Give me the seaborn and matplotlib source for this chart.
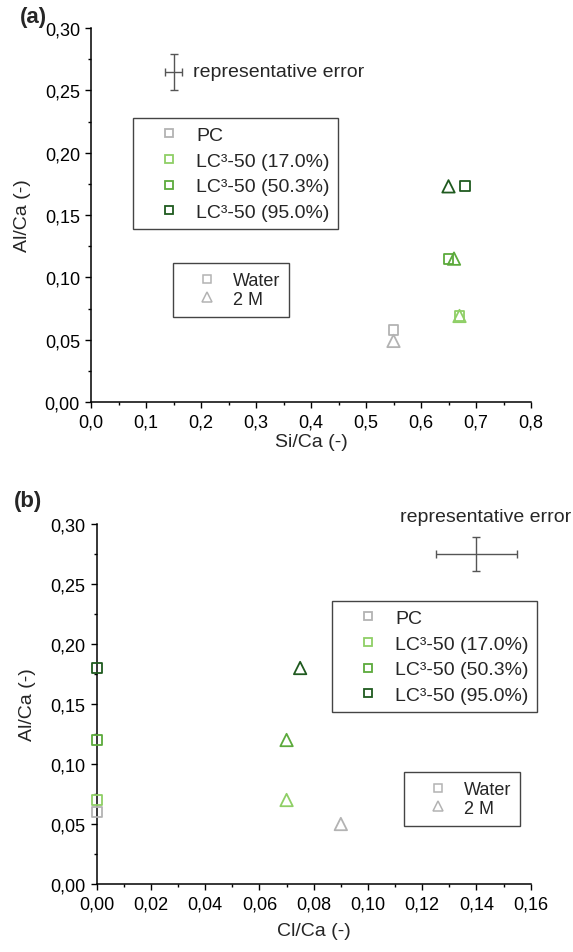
import numpy as np
import pandas as pd
import matplotlib
matplotlib.use("Agg")
import matplotlib.pyplot as plt
from matplotlib.lines import Line2D
from matplotlib.ticker import FuncFormatter, MultipleLocator, AutoMinorLocator
import seaborn as sns

# ---------------- data ----------------
samples = ["PC", "LC³-50 (17.0%)", "LC³-50 (50.3%)", "LC³-50 (95.0%)"]
media = ["Water", "2 M"]

# panel (a): Si/Ca vs Al/Ca
a_si_water = [0.55, 0.67, 0.65, 0.68]
a_si_2m = [0.55, 0.67, 0.66, 0.65]
a_al_water = [0.058, 0.069, 0.115, 0.173]
a_al_2m = [0.049, 0.069, 0.115, 0.173]

# panel (b): Cl/Ca vs Al/Ca
b_cl_water = [0.0, 0.0, 0.0, 0.0]
b_cl_2m = [0.09, 0.07, 0.07, 0.075]
b_al_water = [0.06, 0.07, 0.12, 0.18]
b_al_2m = [0.05, 0.07, 0.12, 0.18]

# representative errors (x, y, xerr, yerr)
err_a = [0.15, 0.265, 0.016, 0.0145]
err_b = [0.14, 0.275, 0.015, 0.0145]

colors = ["#b3b3b3", "#8fcf66", "#5caa3c", "#1f5a1f"]

df_a = pd.DataFrame({
    "sample": samples * 2,
    "medium": ["Water"] * 4 + ["2 M"] * 4,
    "x": a_si_water + a_si_2m,
    "y": a_al_water + a_al_2m,
})
df_b = pd.DataFrame({
    "sample": samples * 2,
    "medium": ["Water"] * 4 + ["2 M"] * 4,
    "x": b_cl_water + b_cl_2m,
    "y": b_al_water + b_al_2m,
})

# ---------------- style ----------------
sns.set_theme(style="ticks")
plt.rcParams["font.family"] = ["Liberation Sans", "DejaVu Sans"]
plt.rcParams["axes.linewidth"] = 1.1
for k in ["xtick.major.width", "ytick.major.width", "xtick.minor.width", "ytick.minor.width"]:
    plt.rcParams[k] = 1.0
plt.rcParams["xtick.major.size"] = 4.5
plt.rcParams["ytick.major.size"] = 4.5
plt.rcParams["xtick.minor.size"] = 2.5
plt.rcParams["ytick.minor.size"] = 2.5
plt.rcParams["xtick.color"] = "black"
plt.rcParams["ytick.color"] = "black"
plt.rcParams["axes.edgecolor"] = "black"

TICK_FS = 13
LAB_FS = 14
LEG_FS = 14

fig = plt.figure(figsize=(5.73, 9.53), dpi=100)
W, H = 573.0, 953.0
ax_a = fig.add_axes([91 / W, 1 - 403 / H, 440 / W, 374 / H])
ax_b = fig.add_axes([96.7 / W, 1 - 885 / H, 434 / W, 360 / H])

pal = dict(zip(samples, colors))
marks = {"Water": "s", "2 M": "^"}
sizes = {"Water": 50, "2 M": 80}


def comma_fmt(dec):
    return FuncFormatter(lambda v, p: f"{v:.{dec}f}".replace(".", ","))


def draw(ax, df, xlim, xmaj, xdec, xlabel, xlabelpad):
    sns.scatterplot(data=df, x="x", y="y", hue="sample", style="medium",
                    size="medium", palette=pal, markers=marks, sizes=sizes,
                    hue_order=samples, style_order=media, size_order=media,
                    legend=False, ax=ax, zorder=3)
    coll = ax.collections[-1]
    fc = coll.get_facecolors()
    coll.set_edgecolors(fc)
    coll.set_facecolors("none")
    coll.set_linewidths(1.3)
    coll.set_clip_on(False)

    ax.set_xlim(*xlim)
    ax.set_ylim(0, 0.30)
    ax.xaxis.set_major_locator(MultipleLocator(xmaj))
    ax.xaxis.set_minor_locator(AutoMinorLocator(2))
    ax.yaxis.set_major_locator(MultipleLocator(0.05))
    ax.yaxis.set_minor_locator(AutoMinorLocator(2))
    ax.xaxis.set_major_formatter(comma_fmt(xdec))
    ax.yaxis.set_major_formatter(comma_fmt(2))
    ax.tick_params(axis="both", which="both", direction="out", labelsize=TICK_FS)
    sns.despine(ax=ax)
    ax.set_xlabel(xlabel, fontsize=LAB_FS, labelpad=xlabelpad)
    ax.set_ylabel("Al/Ca (-)", fontsize=LAB_FS, labelpad=10)

    h1 = [Line2D([], [], ls="none", marker="s", ms=5.5, mfc="none", mec=c, mew=1.3)
          for c in colors]
    leg1 = ax.legend(h1, samples, fontsize=LEG_FS, frameon=True, fancybox=False,
                     edgecolor="#444444", framealpha=1, loc="upper left",
                     borderaxespad=0, handlelength=2.85, handletextpad=-0.03,
                     borderpad=0.44, labelspacing=0.41)
    leg1.get_frame().set_linewidth(1.0)
    ax.add_artist(leg1)
    return leg1


leg1a = draw(ax_a, df_a, (0, 0.8), 0.1, 1, "Si/Ca (-)", 2)
leg1b = draw(ax_b, df_b, (0, 0.16), 0.02, 2, "Cl/Ca (-)", 7)

leg1a.set_bbox_to_anchor((42 / 440, 284 / 374), transform=ax_a.transAxes)
leg1b.set_bbox_to_anchor((235.3 / 434, 283 / 360), transform=ax_b.transAxes)

h2 = [Line2D([], [], ls="none", marker=m, ms=ms, mfc="none", mec="#b3b3b3", mew=1.1)
      for m, ms in [("s", 5.5), ("^", 7)]]
for ax, anchor in [(ax_a, (82 / 440, 139 / 374)), (ax_b, (307.3 / 434, 112 / 360))]:
    leg2 = ax.legend(h2, media, fontsize=13, frameon=True, fancybox=False,
                     edgecolor="#444444", framealpha=1, loc="upper left",
                     bbox_to_anchor=anchor, borderaxespad=0, handlelength=2.8,
                     handletextpad=0.03, borderpad=0.49, labelspacing=0.1)
    leg2.get_frame().set_linewidth(1.0)

# representative errors
for ax, e in [(ax_a, err_a), (ax_b, err_b)]:
    ax.errorbar(e[0], e[1], xerr=e[2], yerr=e[3], fmt="none", ecolor="#555555",
                elinewidth=1.0, capsize=3, capthick=1.0, clip_on=False)

ax_a.text(0.1855, 0.265, "representative error", fontsize=LEG_FS, va="center", ha="left")
ax_b.text(0.1435, 0.306, "representative error", fontsize=LEG_FS, va="center",
          ha="center", clip_on=False)

fig.text(33 / W, 1 - 17 / H, "(a)", fontsize=16, fontweight="bold", ha="center", va="center")
fig.text(28 / W, 1 - 502 / H, "(b)", fontsize=16, fontweight="bold", ha="center", va="center")

fig.savefig("out.png", dpi=100)
